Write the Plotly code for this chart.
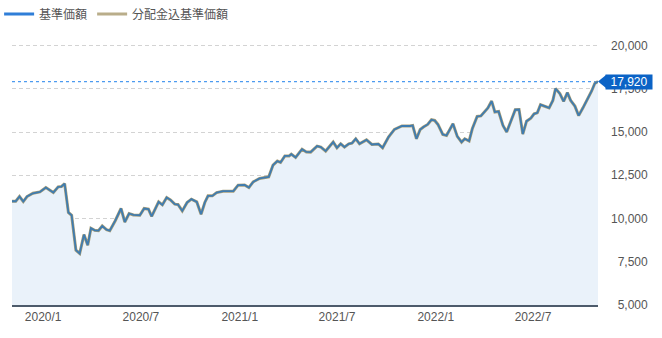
import plotly.graph_objects as go

# ---- data ----
dates = [
    "2019-11-04", "2019-11-11", "2019-11-18", "2019-11-25", "2019-12-02", "2019-12-13", "2019-12-26",
    "2020-01-06", "2020-01-20", "2020-01-29", "2020-02-04", "2020-02-10", "2020-02-17", "2020-02-23",
    "2020-03-02", "2020-03-09", "2020-03-17", "2020-03-24", "2020-03-30", "2020-04-06", "2020-04-13",
    "2020-04-20", "2020-04-28", "2020-05-04",
    "2020-05-14", "2020-05-25", "2020-06-01", "2020-06-09", "2020-06-17", "2020-06-29", "2020-07-07",
    "2020-07-15", "2020-07-21", "2020-08-03", "2020-08-10", "2020-08-18", "2020-08-25", "2020-09-02",
    "2020-09-08", "2020-09-16", "2020-09-25", "2020-10-03", "2020-10-13", "2020-10-21", "2020-10-28",
    "2020-11-03",
    "2020-11-11", "2020-11-19", "2020-12-01", "2020-12-20", "2020-12-29", "2021-01-10", "2021-01-18",
    "2021-01-26", "2021-02-07", "2021-02-24", "2021-03-04", "2021-03-12", "2021-03-18", "2021-03-26",
    "2021-04-03", "2021-04-07", "2021-04-15",
    "2021-04-27", "2021-05-05", "2021-05-13", "2021-05-25", "2021-06-01", "2021-06-10", "2021-06-24",
    "2021-07-01", "2021-07-08", "2021-07-15", "2021-07-23", "2021-07-29", "2021-08-05", "2021-08-12",
    "2021-08-25", "2021-09-04", "2021-09-16", "2021-09-24", "2021-10-05", "2021-10-16", "2021-10-30",
    "2021-11-14",
    "2021-11-19", "2021-11-26", "2021-12-03", "2021-12-09", "2021-12-17", "2021-12-24", "2021-12-30",
    "2022-01-05", "2022-01-14", "2022-01-21", "2022-02-02", "2022-02-10", "2022-02-18", "2022-02-24",
    "2022-03-04", "2022-03-10", "2022-03-19", "2022-03-26", "2022-04-02", "2022-04-08", "2022-04-15",
    "2022-04-21", "2022-04-28", "2022-05-06", "2022-05-13", "2022-05-20", "2022-05-29", "2022-06-05",
    "2022-06-12", "2022-06-19", "2022-06-27", "2022-07-03", "2022-07-09", "2022-07-15", "2022-07-23",
    "2022-07-31", "2022-08-07", "2022-08-12", "2022-08-20", "2022-08-27", "2022-09-03", "2022-09-09",
    "2022-09-17", "2022-09-24", "2022-10-02", "2022-10-09", "2022-10-18", "2022-10-24", "2022-10-30",
]

nav = [
    11000, 11000, 11270, 10980, 11270, 11460, 11540,
    11790, 11500, 11830, 11850, 12020, 10350, 10190,
    8170, 7980, 9070, 8460, 9440, 9320, 9300,
    9570, 9360, 9300,
    9860, 10580, 9800, 10290, 10210, 10190, 10580,
    10540, 10120, 10960, 10790, 11210, 11080, 10830,
    10810, 10440, 10930, 11120, 10960, 10250, 10930,
    11310,
    11310, 11500, 11580, 11580, 11930, 11940, 11790,
    12120, 12320, 12410, 13090, 13320, 13240, 13620,
    13620, 13720, 13530,
    14010, 13850, 13840, 14190, 14130, 13900, 14420,
    14090, 14320, 14130, 14320, 14360, 14610, 14320,
    14550, 14280, 14310, 14090, 14710, 15150, 15350,
    15350,
    15380, 14610, 15150, 15290, 15440, 15710, 15670,
    15440, 14860, 14800, 15480, 14750, 14420, 14610,
    14480, 15190, 15900, 15930, 16160, 16390, 16790,
    16160, 16190, 15380, 15000, 15600, 16290, 16300,
    14880, 15630, 15800, 16050, 16110, 16580, 16500,
    16400, 16830, 17520, 17220, 16770, 17280, 16830,
    16500, 15950, 16400, 16800, 17360, 17810, 17920,
]

# distribution-inclusive NAV overlaps the NAV line exactly in the picture
nav_incl_dist = list(nav)

series_names = ["基準価額", "分配金込基準価額"]
legend_colors = ["#2f7ed8", "#b9ad8a"]

y_tick_vals = [5000, 7500, 10000, 12500, 15000, 17500, 20000]
x_tick_vals = ["2020-01-01", "2020-07-01", "2021-01-01", "2021-07-01", "2022-01-01", "2022-07-01"]
x_tick_text = ["2020/1", "2020/7", "2021/1", "2021/7", "2022/1", "2022/7"]

Y_MIN, Y_MAX = 5000, 20900
W, H = 662, 338
M_L, M_R, M_T, M_B = 12, 64, 30, 33
plot_h = H - M_T - M_B
plot_w = W - M_L - M_R


def fmt(v):
    s = f"{v:,}"
    return ("\u2007" + s) if v < 10000 else s


fig = go.Figure()

# fill area under NAV
fig.add_trace(go.Scatter(
    x=dates, y=nav, mode="lines", line=dict(width=0, color="rgba(0,0,0,0)"),
    fill="tozeroy", fillcolor="#eaf2fa", showlegend=False, hoverinfo="skip"))

last = nav[-1]

# dashed reference line at the latest value
fig.add_trace(go.Scatter(
    x=[dates[0], dates[-1]], y=[last, last], mode="lines",
    line=dict(color="#4d9bf0", width=1.3, dash="3px,3px"),
    showlegend=False, hoverinfo="skip", cliponaxis=False))

# distribution-inclusive line (drawn below)
fig.add_trace(go.Scatter(
    x=dates, y=nav_incl_dist, mode="lines", line=dict(width=3, color="#a99e78"),
    name=series_names[1], showlegend=False))

# NAV line on top
fig.add_trace(go.Scatter(
    x=dates, y=nav, mode="lines", line=dict(width=1.8, color="#3f7cb0"),
    name=series_names[0], showlegend=False))

# legend entries
for name, col in zip(series_names, legend_colors):
    fig.add_trace(go.Scatter(x=[None], y=[None], mode="lines",
                             line=dict(width=3, color=col), name=name, showlegend=True))

units_per_px = (Y_MAX - Y_MIN) / plot_h

# pointer triangle of the value tag
tip_w = 8 / plot_w
half_h = 6.5 * units_per_px
fig.add_shape(type="path", xref="paper", yref="y",
              path=f"M 1.0,{last} L {1 + tip_w},{last + half_h} L {1 + tip_w},{last - half_h} Z",
              fillcolor="#0b63c6", line=dict(width=0), layer="above")

fig.add_annotation(xref="paper", yref="y", x=1, y=last, xanchor="left", yanchor="middle",
                   xshift=7, text=f"{last:,}", showarrow=False, bgcolor="#0b63c6",
                   font=dict(color="white", size=12, family="Liberation Sans"),
                   width=44, height=12, borderpad=1, align="center")

fig.update_layout(
    width=W, height=H,
    margin=dict(l=M_L, r=M_R, t=M_T, b=M_B, autoexpand=False),
    paper_bgcolor="white", plot_bgcolor="white",
    font=dict(family="Liberation Sans, Noto Sans CJK JP", size=12, color="#555555"),
    showlegend=True,
    legend=dict(orientation="h", x=-0.022, xanchor="left", y=1 + 16 / plot_h, yanchor="middle",
                font=dict(size=12, color="#555555", family="Noto Sans CJK JP"),
                itemwidth=30, bgcolor="rgba(0,0,0,0)", tracegroupgap=0),
    xaxis=dict(
        type="date", range=[dates[0], dates[-1]],
        tickvals=x_tick_vals, ticktext=x_tick_text,
        showgrid=False, zeroline=False,
        showline=True, linecolor="#4d5b6b", linewidth=1.5,
        ticks="", tickfont=dict(size=12, color="#555555"),
    ),
    yaxis=dict(
        side="right", range=[Y_MIN, Y_MAX],
        tickvals=y_tick_vals, ticktext=[fmt(v) for v in y_tick_vals],
        showgrid=True, gridcolor="#d3d3d3", gridwidth=1, griddash="4px,3px",
        zeroline=False, showline=False, ticks="",
        ticklabelstandoff=12,
        tickfont=dict(size=12, color="#555555"),
    ),
    hovermode=False,
)

fig.write_html("out.html")
